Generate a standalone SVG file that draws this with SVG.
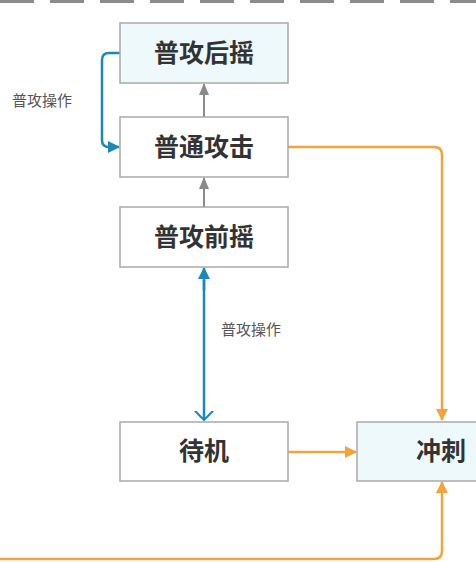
<svg xmlns="http://www.w3.org/2000/svg" width="476" height="562" viewBox="0 0 476 562">
<defs>
<style>
.box{stroke:#a9a9a9;stroke-width:1.5}
.w{fill:#ffffff}
.c{fill:#eef9fc}
.t{font-family:"Noto Sans CJK SC","Noto Sans",sans-serif;font-weight:bold;font-size:25px;fill:#333333;text-anchor:middle}
.lbl{font-family:"Noto Sans CJK SC","Noto Sans",sans-serif;font-size:15px;fill:#555555}
.g{stroke:#8a8a8a;stroke-width:2;fill:none}
.b{stroke:#1b88bb;stroke-width:2.5;fill:none}
.o{stroke:#f2a33a;stroke-width:2.5;fill:none}
</style>
<marker id="ag" viewBox="0 0 12 10" refX="11" refY="5" markerWidth="12" markerHeight="10" markerUnits="userSpaceOnUse" orient="auto"><path d="M0,0 L12,5 L0,10 z" fill="#8a8a8a"/></marker>
<marker id="ab" viewBox="0 0 12 12" refX="11" refY="6" markerWidth="12" markerHeight="12" markerUnits="userSpaceOnUse" orient="auto"><path d="M0,0 L12,6 L0,12 z" fill="#1b88bb"/></marker>
<marker id="abo" viewBox="0 0 12 24" refX="11" refY="12" markerWidth="10" markerHeight="22" markerUnits="userSpaceOnUse" orient="auto"><path d="M0,1 L11,12 L0,23" fill="none" stroke="#1b88bb" stroke-width="2.5"/></marker>
<marker id="ao" viewBox="0 0 12 12" refX="11" refY="6" markerWidth="12" markerHeight="12" markerUnits="userSpaceOnUse" orient="auto"><path d="M0,0 L12,6 L0,12 z" fill="#f2a33a"/></marker>
</defs>
<rect width="476" height="562" fill="#ffffff"/>
<line x1="0" y1="1.5" x2="476" y2="1.5" stroke="#8c8c8c" stroke-width="3" stroke-dasharray="34 16"/>
<g id="connectors">
<line class="g" x1="204" y1="117" x2="204" y2="84" marker-end="url(#ag)"/>
<line class="g" x1="204" y1="207" x2="204" y2="178" marker-end="url(#ag)"/>
<path class="b" d="M120,53 L109,53 Q102,53 102,60 L102,140 Q102,147 109,147 L119,147" marker-end="url(#ab)"/>
<line class="b" x1="204" y1="280" x2="204" y2="420" marker-end="url(#abo)"/>
<line class="b" x1="204" y1="290" x2="204" y2="268" marker-end="url(#ab)"/>
<path class="o" d="M288,147 L434,147 Q442,147 442,155 L442,420" marker-end="url(#ao)"/>
<line class="o" x1="288" y1="452" x2="356" y2="452" marker-end="url(#ao)"/>
<path class="o" d="M0,559 L434,559 Q442,559 442,551 L442,482" marker-end="url(#ao)"/>
</g>
<g id="n-houyao"><rect class="box c" x="120" y="23" width="168" height="60"/><text class="t" x="204" y="62">普攻后摇</text></g>
<g id="n-attack"><rect class="box w" x="120" y="117" width="168" height="60"/><text class="t" x="204" y="156">普通攻击</text></g>
<g id="n-qianyao"><rect class="box w" x="120" y="207" width="168" height="60"/><text class="t" x="204" y="246">普攻前摇</text></g>
<g id="n-idle"><rect class="box w" x="120" y="422" width="168" height="59"/><text class="t" x="204" y="460">待机</text></g>
<g id="n-dash"><rect class="box c" x="357" y="422" width="168" height="59"/><text class="t" x="441" y="460">冲刺</text></g>
<g id="labels">
<text class="lbl" x="12" y="106">普攻操作</text>
<text class="lbl" x="221" y="335">普攻操作</text>
</g>
</svg>
